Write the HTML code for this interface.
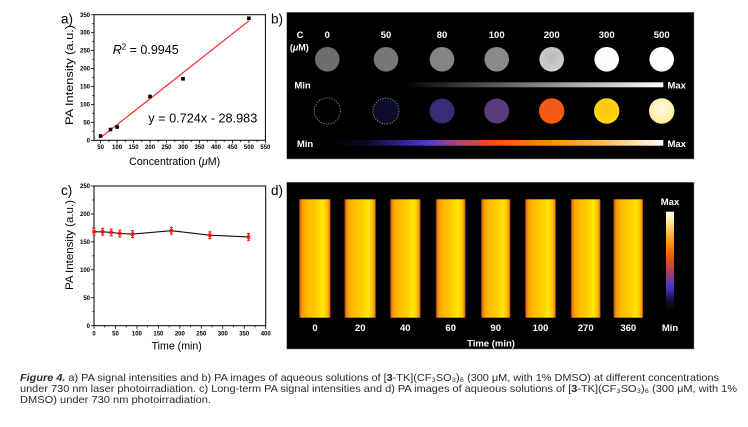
<!DOCTYPE html>
<html><head><meta charset="utf-8"><style>
html,body{margin:0;padding:0;background:#fff;}
svg{display:block;}
text{font-family:"Liberation Sans",Arial,sans-serif;}
</style></head><body>
<svg width="748" height="427" viewBox="0 0 748 427" xmlns="http://www.w3.org/2000/svg">
<defs>
<linearGradient id="gbar" x1="0" x2="1" y1="0" y2="0">
<stop offset="0" stop-color="#000"/><stop offset="1" stop-color="#fff"/>
</linearGradient>
<linearGradient id="cbar" x1="0" x2="1" y1="0" y2="0">
<stop offset="0" stop-color="#000"/>
<stop offset="0.12" stop-color="#0c0824"/>
<stop offset="0.287" stop-color="#4a32d6"/>
<stop offset="0.376" stop-color="#a04488"/>
<stop offset="0.495" stop-color="#ff4a10"/>
<stop offset="0.65" stop-color="#ff8a00"/>
<stop offset="0.8" stop-color="#ffb43a"/>
<stop offset="1" stop-color="#fff"/>
</linearGradient>
<linearGradient id="vbar" x1="0" x2="0" y1="0" y2="1">
<stop offset="0" stop-color="#fffff4"/>
<stop offset="0.12" stop-color="#ffe08a"/>
<stop offset="0.3" stop-color="#ff9a00"/>
<stop offset="0.45" stop-color="#ff5200"/>
<stop offset="0.6" stop-color="#a84068"/>
<stop offset="0.75" stop-color="#4a34d0"/>
<stop offset="0.9" stop-color="#120a34"/>
<stop offset="1" stop-color="#000"/>
</linearGradient>
<linearGradient id="bar" x1="0" x2="1" y1="0" y2="0">
<stop offset="0" stop-color="#3a0c50"/>
<stop offset="0.04" stop-color="#e86a00"/>
<stop offset="0.12" stop-color="#f8a400"/>
<stop offset="0.3" stop-color="#ffbc00"/>
<stop offset="0.55" stop-color="#ffcc00"/>
<stop offset="0.75" stop-color="#ffe800"/>
<stop offset="0.88" stop-color="#ffc400"/>
<stop offset="0.96" stop-color="#f08800"/>
<stop offset="1" stop-color="#401050"/>
</linearGradient>
<radialGradient id="c200" cx="0.45" cy="0.35" r="0.7">
<stop offset="0" stop-color="#e85a20"/><stop offset="1" stop-color="#ff5a08"/>
</radialGradient>
<radialGradient id="c300" cx="0.5" cy="0.4" r="0.7">
<stop offset="0" stop-color="#ffc020"/><stop offset="1" stop-color="#ffe000"/>
</radialGradient>
<radialGradient id="c500" cx="0.5" cy="0.4" r="0.7">
<stop offset="0" stop-color="#fffbe0"/><stop offset="1" stop-color="#ffeb90"/>
</radialGradient>
<radialGradient id="g200" cx="0.5" cy="0.4" r="0.7">
<stop offset="0" stop-color="#b8b8b8"/><stop offset="1" stop-color="#d4d4d4"/>
</radialGradient>
</defs>

<!-- Panel labels -->
<text x="61" y="23.5" font-size="13.5">a)</text>
<text x="271" y="23.5" font-size="13.5">b)</text>
<text x="61" y="195" font-size="13.5">c)</text>
<text x="271" y="195" font-size="13.5">d)</text>

<!-- ============ Panel a ============ -->
<rect x="94" y="14.7" width="171.4" height="125.6" fill="none" stroke="#000" stroke-width="1"/>
<g stroke="#000" stroke-width="0.8">
<line x1="91" y1="140.3" x2="94" y2="140.3"/><line x1="91" y1="122.36" x2="94" y2="122.36"/>
<line x1="91" y1="104.41" x2="94" y2="104.41"/><line x1="91" y1="86.47" x2="94" y2="86.47"/>
<line x1="91" y1="68.53" x2="94" y2="68.53"/><line x1="91" y1="50.59" x2="94" y2="50.59"/>
<line x1="91" y1="32.64" x2="94" y2="32.64"/><line x1="91" y1="14.7" x2="94" y2="14.7"/>
<line x1="92.3" y1="131.33" x2="94" y2="131.33"/><line x1="92.3" y1="113.39" x2="94" y2="113.39"/>
<line x1="92.3" y1="95.44" x2="94" y2="95.44"/><line x1="92.3" y1="77.5" x2="94" y2="77.5"/>
<line x1="92.3" y1="59.56" x2="94" y2="59.56"/><line x1="92.3" y1="41.62" x2="94" y2="41.62"/>
<line x1="92.3" y1="23.67" x2="94" y2="23.67"/>
<line x1="100.59" y1="140.3" x2="100.59" y2="143.3"/><line x1="117.07" y1="140.3" x2="117.07" y2="143.3"/>
<line x1="133.55" y1="140.3" x2="133.55" y2="143.3"/><line x1="150.03" y1="140.3" x2="150.03" y2="143.3"/>
<line x1="166.51" y1="140.3" x2="166.51" y2="143.3"/><line x1="182.99" y1="140.3" x2="182.99" y2="143.3"/>
<line x1="199.47" y1="140.3" x2="199.47" y2="143.3"/><line x1="215.95" y1="140.3" x2="215.95" y2="143.3"/>
<line x1="232.43" y1="140.3" x2="232.43" y2="143.3"/><line x1="248.91" y1="140.3" x2="248.91" y2="143.3"/>
<line x1="265.39" y1="140.3" x2="265.39" y2="143.3"/>
<line x1="108.83" y1="140.3" x2="108.83" y2="142"/><line x1="125.31" y1="140.3" x2="125.31" y2="142"/>
<line x1="141.79" y1="140.3" x2="141.79" y2="142"/><line x1="158.27" y1="140.3" x2="158.27" y2="142"/>
<line x1="174.75" y1="140.3" x2="174.75" y2="142"/><line x1="191.23" y1="140.3" x2="191.23" y2="142"/>
<line x1="207.71" y1="140.3" x2="207.71" y2="142"/><line x1="224.19" y1="140.3" x2="224.19" y2="142"/>
<line x1="240.67" y1="140.3" x2="240.67" y2="142"/><line x1="257.15" y1="140.3" x2="257.15" y2="142"/>
</g>
<g font-size="6" font-weight="bold" text-anchor="end">
<text x="90" y="142.4">0</text><text x="90" y="124.5">50</text><text x="90" y="106.5">100</text>
<text x="90" y="88.6">150</text><text x="90" y="70.6">200</text><text x="90" y="52.7">250</text>
<text x="90" y="34.7">300</text><text x="90" y="16.8">350</text>
</g>
<g font-size="6" font-weight="bold" text-anchor="middle">
<text x="100.59" y="149.2">50</text><text x="117.07" y="149.2">100</text><text x="133.55" y="149.2">150</text>
<text x="150.03" y="149.2">200</text><text x="166.51" y="149.2">250</text><text x="182.99" y="149.2">300</text>
<text x="199.47" y="149.2">350</text><text x="215.95" y="149.2">400</text><text x="232.43" y="149.2">450</text>
<text x="248.91" y="149.2">500</text><text x="265.39" y="149.2">550</text>
</g>
<text x="174.7" y="165" font-size="10.6" text-anchor="middle" textLength="91" lengthAdjust="spacingAndGlyphs">Concentration (<tspan font-style="italic">μ</tspan>M)</text>
<text transform="translate(73,75) rotate(-90)" font-size="11" text-anchor="middle" textLength="100" lengthAdjust="spacingAndGlyphs">PA Intensity (a.u.)</text>
<line x1="100.59" y1="137.7" x2="248.91" y2="20.8" stroke="#ff2020" stroke-width="1.1"/>
<g fill="#000">
<rect x="98.8" y="134.2" width="3.6" height="3.6"/>
<rect x="108.7" y="127.7" width="3.6" height="3.6"/>
<rect x="115.3" y="125.2" width="3.6" height="3.6"/>
<rect x="148.2" y="94.7" width="3.6" height="3.6"/>
<rect x="181.2" y="77" width="3.6" height="3.6"/>
<rect x="247.1" y="16.5" width="3.6" height="3.6"/>
</g>
<text x="112.7" y="54" font-size="12.5"><tspan font-style="italic">R</tspan><tspan font-size="8" dy="-4.5">2</tspan><tspan dy="4.5"> = 0.9945</tspan></text>
<text x="148.3" y="122.7" font-size="12.5" textLength="109" lengthAdjust="spacingAndGlyphs">y = 0.724x - 28.983</text>

<!-- ============ Panel c ============ -->
<rect x="94" y="186" width="171.7" height="139.7" fill="none" stroke="#000" stroke-width="1"/>
<g stroke="#000" stroke-width="0.8">
<line x1="91" y1="325.7" x2="94" y2="325.7"/><line x1="91" y1="297.76" x2="94" y2="297.76"/>
<line x1="91" y1="269.82" x2="94" y2="269.82"/><line x1="91" y1="241.88" x2="94" y2="241.88"/>
<line x1="91" y1="213.94" x2="94" y2="213.94"/><line x1="91" y1="186" x2="94" y2="186"/>
<line x1="92.3" y1="311.73" x2="94" y2="311.73"/><line x1="92.3" y1="283.79" x2="94" y2="283.79"/>
<line x1="92.3" y1="255.85" x2="94" y2="255.85"/><line x1="92.3" y1="227.91" x2="94" y2="227.91"/>
<line x1="92.3" y1="199.97" x2="94" y2="199.97"/>
<line x1="94" y1="325.7" x2="94" y2="328.7"/><line x1="115.46" y1="325.7" x2="115.46" y2="328.7"/>
<line x1="136.93" y1="325.7" x2="136.93" y2="328.7"/><line x1="158.39" y1="325.7" x2="158.39" y2="328.7"/>
<line x1="179.85" y1="325.7" x2="179.85" y2="328.7"/><line x1="201.31" y1="325.7" x2="201.31" y2="328.7"/>
<line x1="222.78" y1="325.7" x2="222.78" y2="328.7"/><line x1="244.24" y1="325.7" x2="244.24" y2="328.7"/>
<line x1="265.7" y1="325.7" x2="265.7" y2="328.7"/>
<line x1="104.73" y1="325.7" x2="104.73" y2="327.4"/><line x1="126.2" y1="325.7" x2="126.2" y2="327.4"/>
<line x1="147.66" y1="325.7" x2="147.66" y2="327.4"/><line x1="169.12" y1="325.7" x2="169.12" y2="327.4"/>
<line x1="190.58" y1="325.7" x2="190.58" y2="327.4"/><line x1="212.05" y1="325.7" x2="212.05" y2="327.4"/>
<line x1="233.51" y1="325.7" x2="233.51" y2="327.4"/><line x1="254.97" y1="325.7" x2="254.97" y2="327.4"/>
</g>
<g font-size="6" font-weight="bold" text-anchor="end">
<text x="90" y="327.8">0</text><text x="90" y="299.9">50</text><text x="90" y="271.9">100</text>
<text x="90" y="244">150</text><text x="90" y="216">200</text><text x="90" y="188.1">250</text>
</g>
<g font-size="6" font-weight="bold" text-anchor="middle">
<text x="94" y="335.6">0</text><text x="115.46" y="335.6">50</text><text x="136.93" y="335.6">100</text>
<text x="158.39" y="335.6">150</text><text x="179.85" y="335.6">200</text><text x="201.31" y="335.6">250</text>
<text x="222.78" y="335.6">300</text><text x="244.24" y="335.6">350</text><text x="265.7" y="335.6">400</text>
</g>
<text x="176.7" y="349.5" font-size="10.6" text-anchor="middle">Time (min)</text>
<text transform="translate(73,245) rotate(-90)" font-size="11" text-anchor="middle" textLength="90" lengthAdjust="spacingAndGlyphs">PA Intensity (a.u.)</text>
<polyline points="94,231.8 102.6,231.8 111.2,232.4 119.8,233.5 132.6,234.1 171.3,230.7 209.9,235.2 248.5,236.9" fill="none" stroke="#111" stroke-width="1.1"/>
<g stroke="#ff1010" stroke-width="1.1">
<line x1="94" y1="228.4" x2="94" y2="235.2"/><line x1="92.5" y1="228.4" x2="95.5" y2="228.4"/><line x1="92.5" y1="235.2" x2="95.5" y2="235.2"/>
<line x1="102.6" y1="228.4" x2="102.6" y2="235.2"/><line x1="101.1" y1="228.4" x2="104.1" y2="228.4"/><line x1="101.1" y1="235.2" x2="104.1" y2="235.2"/>
<line x1="111.2" y1="229" x2="111.2" y2="235.8"/><line x1="109.7" y1="229" x2="112.7" y2="229"/><line x1="109.7" y1="235.8" x2="112.7" y2="235.8"/>
<line x1="119.8" y1="230.1" x2="119.8" y2="236.9"/><line x1="118.3" y1="230.1" x2="121.3" y2="230.1"/><line x1="118.3" y1="236.9" x2="121.3" y2="236.9"/>
<line x1="132.6" y1="230.7" x2="132.6" y2="237.5"/><line x1="131.1" y1="230.7" x2="134.1" y2="230.7"/><line x1="131.1" y1="237.5" x2="134.1" y2="237.5"/>
<line x1="171.3" y1="227.3" x2="171.3" y2="234.1"/><line x1="169.8" y1="227.3" x2="172.8" y2="227.3"/><line x1="169.8" y1="234.1" x2="172.8" y2="234.1"/>
<line x1="209.9" y1="231.8" x2="209.9" y2="238.6"/><line x1="208.4" y1="231.8" x2="211.4" y2="231.8"/><line x1="208.4" y1="238.6" x2="211.4" y2="238.6"/>
<line x1="248.5" y1="233.5" x2="248.5" y2="240.3"/><line x1="247" y1="233.5" x2="250" y2="233.5"/><line x1="247" y1="240.3" x2="250" y2="240.3"/>
</g>
<g fill="#ff1010">
<rect x="92.3" y="230.1" width="3.4" height="3.4"/><rect x="100.9" y="230.1" width="3.4" height="3.4"/>
<rect x="109.5" y="230.7" width="3.4" height="3.4"/><rect x="118.1" y="231.8" width="3.4" height="3.4"/>
<rect x="130.9" y="232.4" width="3.4" height="3.4"/><rect x="169.6" y="229" width="3.4" height="3.4"/>
<rect x="208.2" y="233.5" width="3.4" height="3.4"/><rect x="246.8" y="235.2" width="3.4" height="3.4"/>
</g>

<!-- ============ Panel b ============ -->
<rect x="286.7" y="12.3" width="407.3" height="146.7" fill="#000" stroke="#888" stroke-width="0.5"/>
<g fill="#fff" font-size="9.5" font-weight="bold" text-anchor="middle">
<text x="300" y="38">C</text>
<text x="299.3" y="50.5" font-size="9">(<tspan font-style="italic">μ</tspan>M)</text>
<text x="327.3" y="38">0</text><text x="386" y="38">50</text><text x="442" y="38">80</text>
<text x="496.7" y="38">100</text><text x="551.7" y="38">200</text><text x="606.7" y="38">300</text>
<text x="661.7" y="38">500</text>
<text x="302.5" y="88.5">Min</text><text x="676.7" y="88.5">Max</text>
<text x="305" y="147">Min</text><text x="676.7" y="147">Max</text>
</g>
<circle cx="327.3" cy="59.3" r="12.3" fill="#6e6e6e"/>
<circle cx="386" cy="59.3" r="12.3" fill="#777"/>
<circle cx="442" cy="59.3" r="12.3" fill="#858585"/>
<circle cx="496.7" cy="59.3" r="12.3" fill="#8a8a8a"/>
<circle cx="551.7" cy="59.3" r="12.3" fill="url(#g200)"/>
<circle cx="606.7" cy="59.3" r="12.3" fill="#fdfdfd"/>
<circle cx="661.7" cy="59.3" r="12.3" fill="#fff"/>
<rect x="403.3" y="82.3" width="260" height="5" fill="url(#gbar)"/>
<circle cx="327.3" cy="111" r="13" fill="none" stroke="#b0b0b0" stroke-width="0.7" stroke-dasharray="1.3 1.3"/>
<circle cx="386" cy="111" r="13" fill="#0e0c2c" stroke="#b0b0b0" stroke-width="0.7" stroke-dasharray="1.3 1.3"/>
<circle cx="442" cy="111" r="12.5" fill="#3a2c74"/>
<circle cx="496.7" cy="111" r="12.5" fill="#5a3c7c"/>
<circle cx="551.7" cy="111" r="12.7" fill="url(#c200)"/>
<circle cx="606.7" cy="111" r="12.7" fill="url(#c300)"/>
<circle cx="661.7" cy="111" r="12.7" fill="url(#c500)"/>
<rect x="326.7" y="140" width="336.6" height="5.7" fill="url(#cbar)"/>

<!-- ============ Panel d ============ -->
<rect x="286.7" y="182.3" width="407.3" height="166.7" fill="#000" stroke="#888" stroke-width="0.5"/>
<g fill="url(#bar)">
<rect x="299" y="199.3" width="31.7" height="118.4"/>
<rect x="344.3" y="199.3" width="31.7" height="118.4"/>
<rect x="390" y="199.3" width="30.7" height="118.4"/>
<rect x="435.7" y="199.3" width="30" height="118.4"/>
<rect x="481" y="199.3" width="29.5" height="118.4"/>
<rect x="525" y="199.3" width="31" height="118.4"/>
<rect x="570.7" y="199.3" width="30" height="118.4"/>
<rect x="613.3" y="199.3" width="30" height="118.4"/>
</g>
<rect x="666" y="211.7" width="8" height="100" fill="url(#vbar)"/>
<g fill="#fff" font-size="9.5" font-weight="bold" text-anchor="middle">
<text x="315" y="331">0</text><text x="360.2" y="331">20</text><text x="405.3" y="331">40</text>
<text x="450.7" y="331">60</text><text x="495.7" y="331">90</text><text x="540.5" y="331">100</text>
<text x="585.7" y="331">270</text><text x="628.3" y="331">360</text>
<text x="670" y="205">Max</text><text x="670" y="331">Min</text>
<text x="491" y="346.5">Time (min)</text>
</g>

<!-- ============ Caption ============ -->
<g fill="#2a2a2a" font-size="10.4">
<text x="20" y="381" textLength="699" lengthAdjust="spacingAndGlyphs"><tspan font-weight="bold" font-style="italic">Figure 4.</tspan> a) PA signal intensities and b) PA images of aqueous solutions of [<tspan font-weight="bold">3</tspan>-TK](CF₃SO₃)₆ (300 μM, with 1% DMSO) at different concentrations</text>
<text x="20" y="392" textLength="717" lengthAdjust="spacingAndGlyphs">under 730 nm laser photoirradiation. c) Long-term PA signal intensities and d) PA images of aqueous solutions of [<tspan font-weight="bold">3</tspan>-TK](CF₃SO₃)₆ (300 μM, with 1%</text>
<text x="20" y="403" textLength="191" lengthAdjust="spacingAndGlyphs">DMSO) under 730 nm photoirradiation.</text>
</g>
</svg>
</body></html>
